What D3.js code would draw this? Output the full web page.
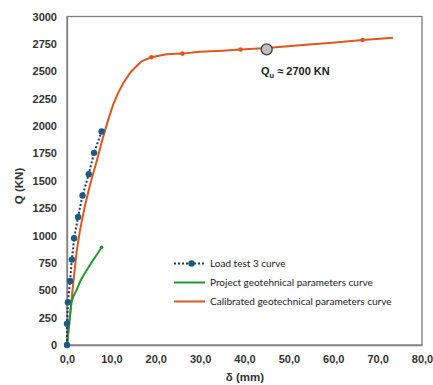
<!DOCTYPE html>
<html>
<head>
<meta charset="utf-8">
<script src="https://cdn.jsdelivr.net/npm/d3@7"></script>
<style>
  html, body { margin: 0; padding: 0; background: #fff; }
  svg { display: block; }
</style>
</head>
<body>
<svg id="chart" width="433" height="385"></svg>
<script>
// Load test 3: settlement δ (mm) vs load Q (KN)
const loadTestDelta = [0, 0.0, 0.2, 0.7, 1.1, 1.6, 2.5, 3.5, 4.9, 6.1, 7.8];
const loadTestQ     = [0, 195, 390, 585, 780, 975, 1170, 1365, 1560, 1755, 1950];

// Curve computed with the project geotechnical parameters
const projectDelta = [0, 0.5, 1.0, 1.5, 2.2, 3.0, 4.0, 5.0, 5.9, 6.9, 7.8];
const projectQ     = [0, 200, 390, 450, 505, 585, 656, 720, 777, 835, 893];

// Curve computed with the calibrated geotechnical parameters
const calibratedDelta = [0, 0.5, 1.0, 1.6, 2.2, 2.9, 4.0, 5.3, 6.7, 8.0, 9.3, 10.4, 11.5, 12.7, 14.5, 16.8, 19.0, 22.4, 26.0, 29.9, 35.0, 39.1, 45.0, 54.6, 59.1, 66.6, 73.5];
const calibratedQ     = [0, 200, 400, 640, 860, 1040, 1265, 1480, 1680, 1880, 2058, 2195, 2300, 2393, 2500, 2591, 2628, 2655, 2661, 2677, 2688, 2698, 2712, 2745, 2759, 2785, 2805];
// Small point markers drawn along the calibrated curve
const calibratedMarkDelta = [19.0, 26.0, 39.1, 66.6];

// Ultimate capacity
const ultimateDelta = 45.0;
const ultimateQ = 2700;

const xTicks = [0, 10, 20, 30, 40, 50, 60, 70, 80];
const yTicks = [0, 250, 500, 750, 1000, 1250, 1500, 1750, 2000, 2250, 2500, 2750, 3000];

const legendLabels = [
  "Load test 3 curve",
  "Project geotehnical parameters curve",
  "Calibrated geotechnical parameters curve"
];

const svg = d3.select("#chart");
const plot = { left: 67, right: 422, top: 16.5, bottom: 345 };

const x = d3.scaleLinear().domain([0, 80]).range([plot.left, plot.right]);
const y = d3.scaleLinear().domain([0, 3000]).range([plot.bottom, plot.top]);

const tickFont = "'Liberation Sans', Arial, sans-serif";

// Plot frame
svg.append("rect")
  .attr("x", plot.left).attr("y", plot.top)
  .attr("width", plot.right - plot.left).attr("height", plot.bottom - plot.top)
  .attr("fill", "none").attr("stroke", "#7f7f7f").attr("stroke-width", 1.3);

// Axes
const xAxis = svg.append("g")
  .attr("transform", `translate(0,${plot.bottom})`)
  .call(d3.axisBottom(x).tickValues(xTicks).tickSize(0).tickPadding(10)
    .tickFormat(d => d3.format(".1f")(d).replace(".", ",")));
const yAxis = svg.append("g")
  .attr("transform", `translate(${plot.left},0)`)
  .call(d3.axisLeft(y).tickValues(yTicks).tickSize(0).tickPadding(10)
    .tickFormat(d3.format("d")));

[xAxis, yAxis].forEach(g => {
  g.select(".domain").attr("stroke", "#7f7f7f").attr("stroke-width", 1.3);
  g.selectAll("text")
    .attr("font-family", tickFont)
    .attr("font-weight", "bold")
    .attr("font-size", 11)
    .attr("fill", "#333");
});
xAxis.selectAll("text").attr("dy", "0.71em");

// Axis titles
svg.append("text")
  .attr("x", 245).attr("y", 381)
  .attr("text-anchor", "middle")
  .attr("font-family", tickFont).attr("font-weight", "bold").attr("font-size", 11.5)
  .attr("fill", "#333")
  .text("δ (mm)");
svg.append("text")
  .attr("transform", "translate(23,186) rotate(-90)")
  .attr("text-anchor", "middle")
  .attr("font-family", tickFont).attr("font-weight", "bold").attr("font-size", 11.5)
  .attr("fill", "#333")
  .text("Q (KN)");

const line = d3.line().x(d => x(d[0])).y(d => y(d[1]));

const colors = { load: "#1f3864", loadDot: "#1b5a82", project: "#1e9a2e", calibrated: "#e0561c" };

// Calibrated curve
const calibrated = calibratedDelta.map((d, i) => [d, calibratedQ[i]]);
svg.append("path").datum(calibrated)
  .attr("d", line).attr("fill", "none")
  .attr("stroke", colors.calibrated).attr("stroke-width", 2);
const calInterp = d3.scaleLinear().domain(calibratedDelta).range(calibratedQ);
svg.selectAll(".calmark").data(calibratedMarkDelta).join("circle")
  .attr("cx", d => x(d)).attr("cy", d => y(calInterp(d)))
  .attr("r", 2.3).attr("fill", colors.calibrated);

// Project curve
const project = projectDelta.map((d, i) => [d, projectQ[i]]);
svg.append("path").datum(project)
  .attr("d", line).attr("fill", "none")
  .attr("stroke", colors.project).attr("stroke-width", 2);
svg.append("circle")
  .attr("cx", x(projectDelta[projectDelta.length - 1]))
  .attr("cy", y(projectQ[projectQ.length - 1]))
  .attr("r", 1.8).attr("fill", colors.project);

// Load test curve
const loadTest = loadTestDelta.map((d, i) => [d, loadTestQ[i]]);
svg.append("path").datum(loadTest)
  .attr("d", line).attr("fill", "none")
  .attr("stroke", colors.load).attr("stroke-width", 2)
  .attr("stroke-dasharray", "2,2");
svg.selectAll(".ltdot").data(loadTest).join("circle")
  .attr("cx", d => x(d[0])).attr("cy", d => y(d[1]))
  .attr("r", 3.2).attr("fill", colors.loadDot);

// Ultimate capacity marker and label
svg.append("circle")
  .attr("cx", x(ultimateDelta)).attr("cy", y(ultimateQ))
  .attr("r", 5.5).attr("fill", "#bfbfbf")
  .attr("stroke", "#404040").attr("stroke-width", 1.3);
const qu = svg.append("text")
  .attr("x", 261).attr("y", 75)
  .attr("font-family", tickFont).attr("font-weight", "bold").attr("font-size", 11)
  .attr("fill", "#222");
qu.append("tspan").text("Q");
qu.append("tspan").attr("font-size", 7.5).attr("dy", 3).text("u");
qu.append("tspan").attr("dy", -3).text(" ≈ " + ultimateQ + " KN");

// Legend
const legend = svg.append("g").attr("font-family", "Lato, 'Open Sans', sans-serif").attr("font-size", 10);
const legendY = [263.5, 282.5, 301.5];
const legendStroke = [colors.load, colors.project, colors.calibrated];
legendLabels.forEach((label, i) => {
  const g = legend.append("g").attr("transform", `translate(0,${legendY[i]})`);
  g.append("line").attr("x1", 174).attr("x2", 205).attr("y1", 0).attr("y2", 0)
    .attr("stroke", legendStroke[i]).attr("stroke-width", 2)
    .attr("stroke-dasharray", i === 0 ? "2,2" : null);
  if (i === 0) {
    g.append("circle").attr("cx", 191.5).attr("cy", 0).attr("r", 3.2).attr("fill", colors.loadDot);
  }
  g.append("text").attr("x", 210).attr("y", 0).attr("dy", "0.35em")
    .attr("fill", "#222").text(label);
});
</script>
</body>
</html>
